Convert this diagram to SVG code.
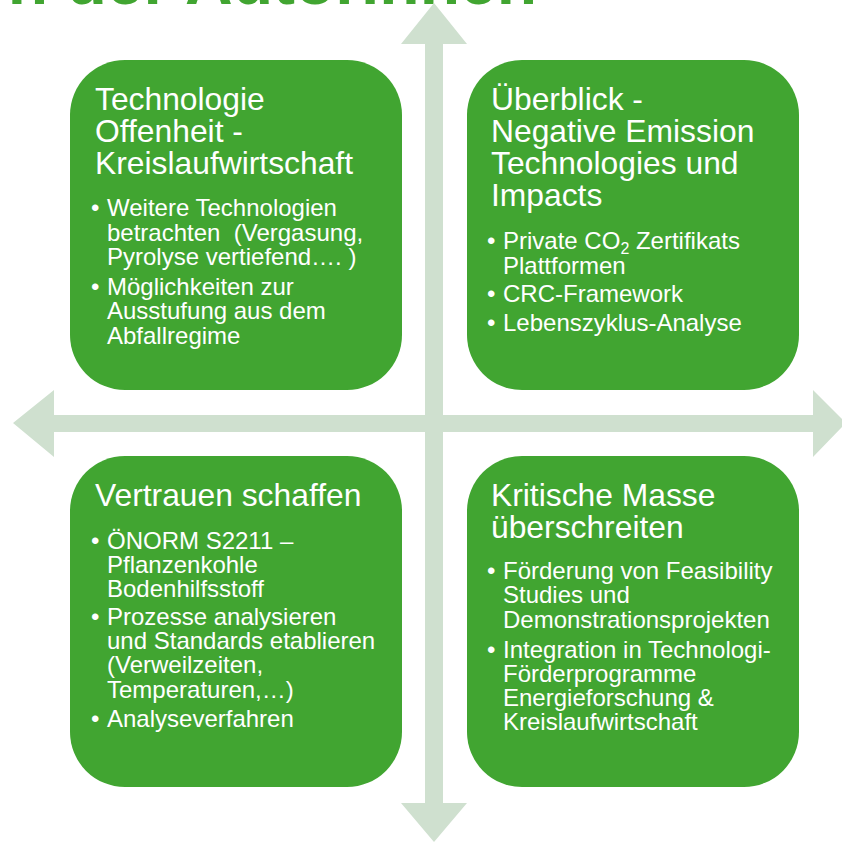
<svg xmlns="http://www.w3.org/2000/svg" width="842" height="843" viewBox="0 0 842 843">
  <style>
    .box { fill: #41A531; }
    .axis { fill: #CFE0CF; }
    text { font-family: "Liberation Sans", Arial, sans-serif; fill: #FFFFFF; }
    .head { font-size: 31.8px; }
    .item { font-size: 24px; }
    .title { font-size: 66px; font-weight: bold; fill: #41A531; }
  </style>

  <!-- heading, clipped at the top edge -->
  <text class="title" x="537" y="4" text-anchor="end">n der Autorinnen</text>

  <!-- crossing double arrows -->
  <g id="connectors">
    <polygon class="axis" points="434,3 467,44 443,44 443,803 467,803 434,842 401,803 425,803 425,44 401,44"/>
    <polygon class="axis" points="13,423 54,390 54,415 813,415 813,390 846,423 813,457 813,432 54,432 54,457"/>
  </g>

  <g id="technologie-offenheit">
    <rect class="box" x="70" y="60" width="332" height="330" rx="55" ry="55"/>
    <text class="head" x="95" y="110">Technologie</text>
    <text class="head" x="95" y="142">Offenheit -</text>
    <text class="head" x="95" y="174">Kreislaufwirtschaft</text>
    <text class="item" x="91" y="216">•</text>
    <text class="item" x="107" y="216">Weitere Technologien</text>
    <text class="item" x="107" y="241" xml:space="preserve">betrachten  (Vergasung,</text>
    <text class="item" x="107" y="265">Pyrolyse vertiefend…. )</text>
    <text class="item" x="91" y="295">•</text>
    <text class="item" x="107" y="295">Möglichkeiten zur</text>
    <text class="item" x="107" y="319">Ausstufung aus dem</text>
    <text class="item" x="107" y="344">Abfallregime</text>
  </g>

  <g id="ueberblick-net">
    <rect class="box" x="467" y="60" width="332" height="330" rx="55" ry="55"/>
    <text class="head" x="491" y="110">Überblick -</text>
    <text class="head" x="491" y="142">Negative Emission</text>
    <text class="head" x="491" y="174">Technologies und</text>
    <text class="head" x="491" y="206">Impacts</text>
    <text class="item" x="487" y="249">•</text>
    <text class="item" x="503" y="249">Private CO<tspan font-size="16" dy="5">2</tspan><tspan dy="-5"> Zertifikats</tspan></text>
    <text class="item" x="503" y="274">Plattformen</text>
    <text class="item" x="487" y="302">•</text>
    <text class="item" x="503" y="302">CRC-Framework</text>
    <text class="item" x="487" y="331">•</text>
    <text class="item" x="503" y="331">Lebenszyklus-Analyse</text>
  </g>

  <g id="vertrauen-schaffen">
    <rect class="box" x="70" y="456" width="332" height="331" rx="55" ry="55"/>
    <text class="head" x="95" y="506">Vertrauen schaffen</text>
    <text class="item" x="91" y="549">•</text>
    <text class="item" x="107" y="549">ÖNORM S2211 –</text>
    <text class="item" x="107" y="573">Pflanzenkohle</text>
    <text class="item" x="107" y="597">Bodenhilfsstoff</text>
    <text class="item" x="91" y="625">•</text>
    <text class="item" x="107" y="625">Prozesse analysieren</text>
    <text class="item" x="107" y="649">und Standards etablieren</text>
    <text class="item" x="107" y="673">(Verweilzeiten,</text>
    <text class="item" x="107" y="698">Temperaturen,…)</text>
    <text class="item" x="91" y="727">•</text>
    <text class="item" x="107" y="727">Analyseverfahren</text>
  </g>

  <g id="kritische-masse">
    <rect class="box" x="467" y="456" width="332" height="331" rx="55" ry="55"/>
    <text class="head" x="491" y="506">Kritische Masse</text>
    <text class="head" x="491" y="538">überschreiten</text>
    <text class="item" x="487" y="579">•</text>
    <text class="item" x="503" y="579">Förderung von Feasibility</text>
    <text class="item" x="503" y="603">Studies und</text>
    <text class="item" x="503" y="628">Demonstrationsprojekten</text>
    <text class="item" x="487" y="658">•</text>
    <text class="item" x="503" y="658">Integration in Technologi-</text>
    <text class="item" x="503" y="682">Förderprogramme</text>
    <text class="item" x="503" y="706">Energieforschung &amp;</text>
    <text class="item" x="503" y="730">Kreislaufwirtschaft</text>
  </g>
</svg>
